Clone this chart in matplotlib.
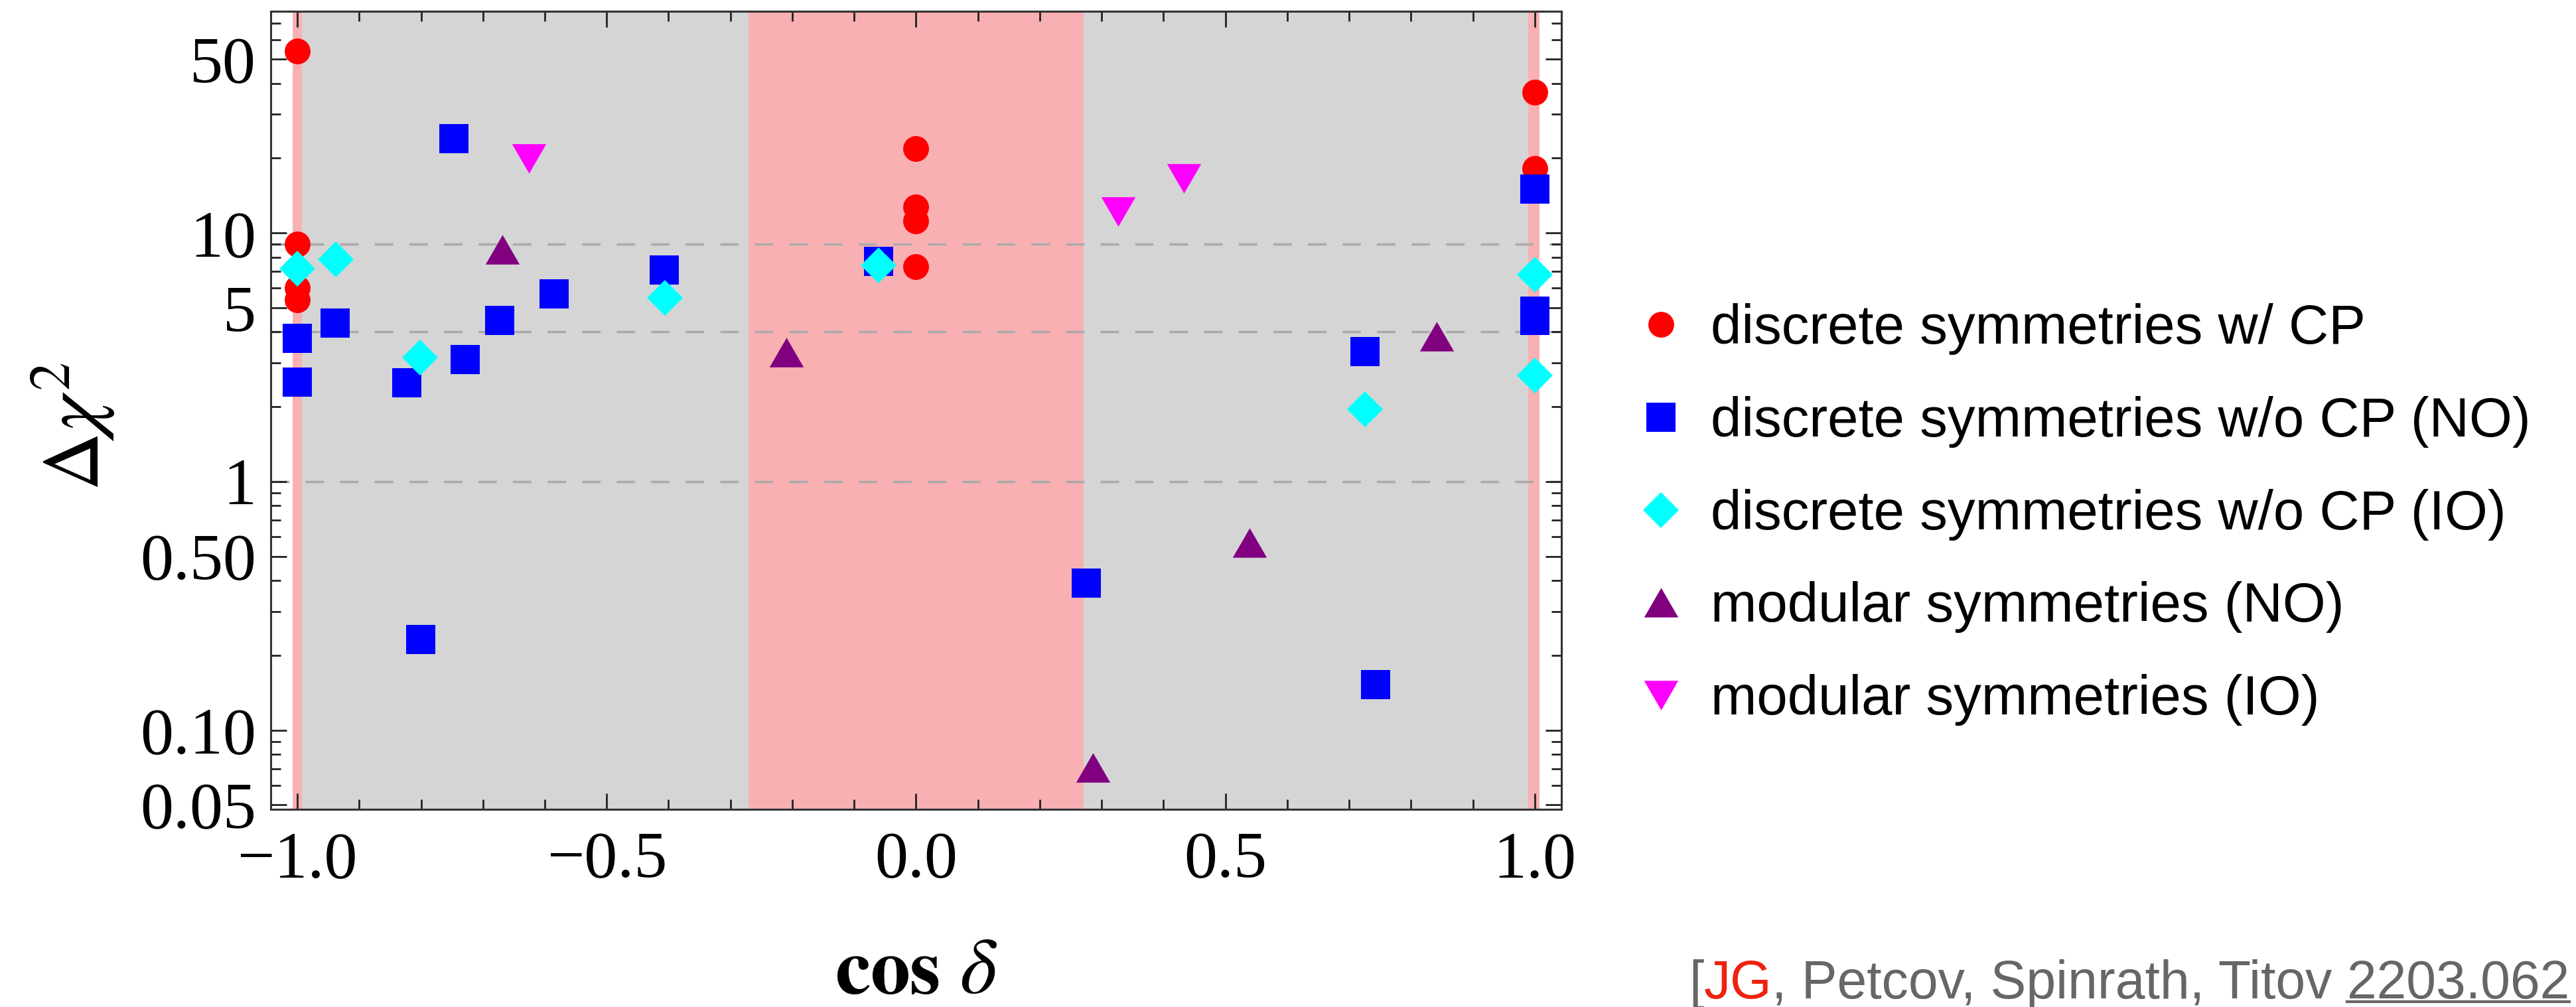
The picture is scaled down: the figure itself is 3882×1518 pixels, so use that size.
import matplotlib
matplotlib.use('Agg')
import matplotlib.pyplot as plt
from matplotlib.ticker import FixedLocator, FixedFormatter, MultipleLocator, NullFormatter
from matplotlib.lines import Line2D

plt.rcParams['mathtext.fontset'] = 'stix'
plt.rcParams['font.family'] = ['Liberation Serif', 'DejaVu Serif']

### Data ###

# discrete symmetries w/ CP
cp_x = [-1.0, -1.0, -1.0, -1.0, 0.0, 0.0, 0.0, 0.0, 1.0, 1.0]
cp_y = [54.0, 9.0, 6.0, 5.4, 21.8, 12.7, 11.2, 7.3, 36.8, 18.2]

# discrete symmetries w/o CP (NO)
no_x = [-0.747, -0.407, -0.585, -0.673, -0.939, -1.0, -0.729, -1.0, -0.823,
        -0.801, -0.06, 1.0, 1.0, 1.0, 0.726, 0.275, 0.743]
no_y = [23.9, 7.1, 5.7, 4.45, 4.35, 3.77, 3.1, 2.52, 2.5,
        0.232, 7.7, 15.0, 4.85, 4.45, 3.34, 0.39, 0.152]

# discrete symmetries w/o CP (IO)
io_x = [-1.0, -0.938, -0.802, -0.406, -0.06, 1.0, 1.0, 0.726]
io_y = [7.2, 7.85, 3.16, 5.5, 7.4, 6.8, 2.67, 1.95]

# modular symmetries (NO)
mod_no_x = [-0.669, -0.21, 0.842, 0.539, 0.286]
mod_no_y = [8.6, 3.32, 3.83, 0.568, 0.0705]

# modular symmetries (IO)
mod_io_x = [-0.626, 0.327, 0.433]
mod_io_y = [19.9, 12.2, 16.6]

labels = ['discrete symmetries w/ CP',
          'discrete symmetries w/o CP (NO)',
          'discrete symmetries w/o CP (IO)',
          'modular symmetries (NO)',
          'modular symmetries (IO)']

# shaded cos(delta) regions
pink_bands = [(-1.008, -0.993), (-0.271, 0.271), (0.989, 1.008)]
gray_bands = [(-0.993, -0.271), (0.271, 0.989)]
sigma_lines = [1, 4, 9]

y_major = [0.05, 0.1, 0.5, 1, 5, 10, 50]
y_major_labels = ['0.05', '0.10', '0.50', '1', '5', '10', '50']
y_minor = [0.06, 0.07, 0.08, 0.09, 0.2, 0.3, 0.4, 0.6, 0.7, 0.8, 0.9,
           2, 3, 4, 6, 7, 8, 9, 20, 30, 40, 60, 70]
x_major = [-1.0, -0.5, 0.0, 0.5, 1.0]
x_major_labels = ['\u22121.0', '\u22120.5', '0.0', '0.5', '1.0']

cite_parts = ['[', 'JG', ', Petcov, Spinrath, Titov ', '2203.062']

### Plot ###

fig = plt.figure(figsize=(38.82, 15.18), dpi=100)
ax = fig.add_axes([0.1051, 0.1963, 0.5010, 0.7925])

for lo, hi in gray_bands:
    ax.axvspan(lo, hi, color='#d5d5d5', lw=0, zorder=0)
for lo, hi in pink_bands:
    ax.axvspan(lo, hi, color='#f9b0b3', lw=0, zorder=0)
for v in sigma_lines:
    ax.axhline(v, color='#aaaaaa', lw=2.5, dashes=(8, 7), zorder=1)

tri_up = [(0, 0.866), (-1, -0.866), (1, -0.866)]
tri_dn = [(0, -0.866), (-1, 0.866), (1, 0.866)]

ax.plot(cp_x, cp_y, ls='none', marker='o', ms=28, color='#ff0000', mew=0,
        label=labels[0], zorder=3)
ax.plot(no_x, no_y, ls='none', marker='s', ms=32, color='#0000ff', mew=0,
        label=labels[1], zorder=3)
ax.plot(io_x, io_y, ls='none', marker='D', ms=27, color='#00ffff', mew=0,
        label=labels[2], zorder=3)
ax.plot(mod_no_x, mod_no_y, ls='none', marker=tri_up, ms=37, color='#800080',
        mew=0, label=labels[3], zorder=3)
ax.plot(mod_io_x, mod_io_y, ls='none', marker=tri_dn, ms=37, color='#ff00ff',
        mew=0, label=labels[4], zorder=3)

ax.set_yscale('log')
ax.set_xlim(-1.043, 1.043)
ax.set_ylim(0.048, 78)

ax.yaxis.set_major_locator(FixedLocator(y_major))
ax.yaxis.set_major_formatter(FixedFormatter(y_major_labels))
ax.yaxis.set_minor_locator(FixedLocator(y_minor))
ax.yaxis.set_minor_formatter(NullFormatter())
ax.xaxis.set_major_locator(FixedLocator(x_major))
ax.xaxis.set_major_formatter(FixedFormatter(x_major_labels))
ax.xaxis.set_minor_locator(MultipleLocator(0.1))

ax.tick_params(which='both', direction='in', top=True, right=True,
               width=2, color='#222222', labelsize=72)
ax.tick_params(which='major', length=17)
ax.tick_params(which='minor', length=11)
ax.tick_params(axis='y', pad=16)
ax.tick_params(axis='x', pad=24)
for s in ax.spines.values():
    s.set_linewidth(2.2)
    s.set_color('#333333')
    s.set_zorder(4)

ax.set_xlabel(r'$\mathbf{cos}\ \delta$', fontsize=86, va='center')
ax.xaxis.set_label_coords(0.5, -0.206)
ax.set_ylabel(r'$\Delta\chi^2$', fontsize=88, va='center', ha='center')
ax.yaxis.set_label_coords(-0.153, 0.48)

fig.legend(loc='center left', bbox_to_anchor=(0.634, 0.489), frameon=False,
           prop={'family': 'Liberation Sans', 'size': 60}, handlelength=1.0,
           handletextpad=0.4, labelspacing=0.74, borderpad=0, borderaxespad=0,
           numpoints=1)

# citation in the bottom right corner, pieces placed one after another
gray = '#666666'
cite_font = {'family': 'Liberation Sans', 'size': 58}
cite_colors = [gray, '#ee2211', gray, gray]
pieces = [fig.text(0.6556, 0.0086, cite_parts[0], color=cite_colors[0],
                   va='baseline', **cite_font)]
r = fig.canvas.get_renderer()
for s, col in zip(cite_parts[1:], cite_colors[1:]):
    bb = pieces[-1].get_window_extent(r)
    x0, y0 = fig.transFigure.inverted().transform((bb.x1, bb.y0))
    pieces.append(fig.text(x0, y0, s, color=col, va='bottom', **cite_font))

bb = pieces[-1].get_window_extent(r)
(ux0, uy), (ux1, _) = fig.transFigure.inverted().transform(
    [(bb.x0, bb.y0 + 12), (bb.x1, bb.y0 + 12)])
fig.add_artist(Line2D([ux0, ux1], [uy, uy], color=gray, lw=3,
                      transform=fig.transFigure))

plt.savefig('out.png', dpi=100)
